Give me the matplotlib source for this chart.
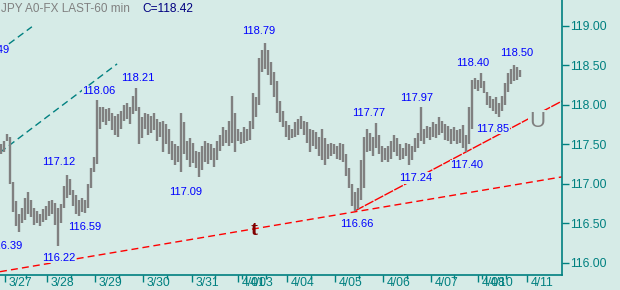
import numpy as np
import matplotlib
matplotlib.use("Agg")
import matplotlib.pyplot as plt
import matplotlib.transforms as mtransforms

plt.rcParams["font.family"] = ["Liberation Sans", "DejaVu Sans"]

# hourly-ish bars (high / low)
highs = [117.50, 117.55, 117.63, 117.60, 117.02, 116.78, 116.62, 116.70, 116.82, 116.90,
         116.80, 116.70, 116.66, 116.62, 116.68, 116.72, 116.78, 116.80, 116.76, 116.70,
         116.75, 116.98, 117.12, 117.06, 116.92, 116.86, 116.80, 116.82, 116.80, 117.00,
         117.20, 117.34, 118.06, 117.97, 117.98, 117.95, 117.96, 117.90, 117.86, 117.88,
         117.92, 118.00, 118.02, 117.98, 118.12, 118.21, 117.98, 117.85, 117.90, 117.88,
         117.86, 117.90, 117.82, 117.78, 117.80, 117.76, 117.70, 117.55, 117.50, 117.48,
         117.90, 117.78, 117.55, 117.58, 117.52, 117.42, 117.40, 117.48, 117.55, 117.52,
         117.50, 117.45, 117.55, 117.62, 117.72, 117.68, 117.80, 118.12, 117.90, 117.70,
         117.66, 117.72, 117.70, 117.80, 118.15, 118.10, 118.60, 118.70, 118.79, 118.70,
         118.55, 118.42, 118.30, 118.05, 117.92, 117.80, 117.75, 117.70, 117.78, 117.82,
         117.86, 117.80, 117.78, 117.70, 117.68, 117.66, 117.60, 117.70, 117.58, 117.50,
         117.52, 117.50, 117.48, 117.52, 117.50, 117.38, 117.20, 117.00, 116.90, 116.95,
         117.30, 117.60, 117.70, 117.65, 117.60, 117.77, 117.62, 117.48, 117.45, 117.48,
         117.55, 117.62, 117.58, 117.50, 117.46, 117.52, 117.50, 117.48, 117.58, 117.65,
         117.97, 117.70, 117.74, 117.72, 117.78, 117.76, 117.85, 117.80, 117.76, 117.74,
         117.70, 117.72, 117.68, 117.70, 117.75, 117.62, 117.98, 118.32, 118.34, 118.32,
         118.40, 118.30, 118.16, 118.12, 118.08, 118.10, 118.02, 118.12, 118.28, 118.40,
         118.46, 118.50, 118.48, 118.44]
lows = [117.38, 117.40, 117.55, 117.00, 116.64, 116.47, 116.39, 116.50, 116.55, 116.62,
        116.58, 116.48, 116.50, 116.47, 116.52, 116.55, 116.60, 116.62, 116.48, 116.22,
        116.50, 116.70, 116.82, 116.86, 116.72, 116.62, 116.59, 116.64, 116.63, 116.70,
        116.95, 117.15, 117.25, 117.70, 117.78, 117.75, 117.80, 117.68, 117.62, 117.60,
        117.70, 117.80, 117.82, 117.76, 117.88, 117.92, 117.50, 117.58, 117.70, 117.62,
        117.65, 117.68, 117.55, 117.60, 117.40, 117.50, 117.38, 117.30, 117.24, 117.28,
        117.15, 117.38, 117.30, 117.22, 117.26, 117.20, 117.09, 117.18, 117.28, 117.25,
        117.30, 117.22, 117.30, 117.42, 117.48, 117.52, 117.48, 117.52, 117.40, 117.55,
        117.50, 117.52, 117.55, 117.56, 117.70, 117.85, 118.00, 118.42, 118.45, 118.38,
        118.25, 118.10, 117.90, 117.78, 117.72, 117.60, 117.56, 117.58, 117.60, 117.62,
        117.70, 117.62, 117.52, 117.40, 117.48, 117.44, 117.35, 117.30, 117.24, 117.32,
        117.36, 117.38, 117.32, 117.30, 117.28, 117.10, 116.95, 116.72, 116.66, 116.68,
        116.80, 116.95, 117.40, 117.42, 117.35, 117.45, 117.38, 117.28, 117.30, 117.28,
        117.32, 117.40, 117.36, 117.30, 117.32, 117.35, 117.24, 117.30, 117.40, 117.45,
        117.55, 117.50, 117.58, 117.56, 117.60, 117.58, 117.62, 117.64, 117.56, 117.55,
        117.50, 117.54, 117.50, 117.52, 117.45, 117.40, 117.50, 117.70, 118.20, 118.18,
        118.22, 118.15, 118.00, 117.96, 117.92, 117.88, 117.85, 117.92, 118.00, 118.16,
        118.26, 118.30, 118.32, 118.36]

# date labels on the time axis (bar index where each day starts)
day_labels = ["3/27", "3/28", "3/29", "3/30", "3/31", "4/01", "4/03", "4/04",
              "4/05", "4/06", "4/07", "4/08", "4/10", "4/11"]
day_pos = [1.3, 15.3, 31.3, 47.3, 63.7, 79.0, 81.7, 95.3, 111.3, 127.3,
           143.3, 159.0, 161.7, 175.3]

# labelled highs / lows: bar index, price
ann_idx = [32, 45, 88, 160, 171, 22, 66, 125, 140, 166, 155, 136, 118, 26, 19]
ann_val = [118.06, 118.21, 118.79, 118.40, 118.50, 117.12, 117.09, 117.77, 117.97,
           117.85, 117.40, 117.24, 116.66, 116.59, 116.22]
ann_off = [(2, 9), (2, 10), (-6, 12), (-8, 10), (3, 12), (-8, 13), (-13, -15), (-7, 10),
           (-4, 9), (-6, -12), (1, -13), (7, -13), (2, -13), (6, -11), (1, -12)]

# trend lines (x in bars, price)
support_x = [-0.33, 187.0]
support_y = [115.89, 117.09]
up_x = [118, 187.0]
up_y = [116.66, 118.05]
chan1_x = [-0.33, 38.7]
chan1_y = [117.40, 118.52]
chan2_x = [-0.33, 10.3]
chan2_y = [118.69, 118.99]

bg = "#d6ebe7"
teal = "#008080"
blue = "#0000ff"

fig = plt.figure(figsize=(6.2, 2.9), dpi=100, facecolor=bg)
ax = fig.add_axes([0, 15 / 290, 562 / 620, 275 / 290])
ax.set_facecolor(bg)
ax.set_xlim(-0.33, 187)
ax.set_ylim(115.848, 119.329)

x = np.arange(len(highs))
ax.vlines(x, lows, highs, color="#808080", lw=1.7, zorder=3)

ax.plot(support_x, support_y, color="red", lw=1, dashes=(5, 3), zorder=2)
ax.plot(up_x, up_y, color="red", lw=1, dashes=(7, 1), zorder=2)
ax.plot(chan1_x, chan1_y, color=teal, lw=1, dashes=(5, 3), zorder=2)
ax.plot(chan2_x, chan2_y, color=teal, lw=1, dashes=(5, 3), zorder=2)

box = dict(boxstyle="square,pad=0.05", fc=bg, ec="none")
for i, v, off in zip(ann_idx, ann_val, ann_off):
    ax.annotate(f"{v:.2f}", (i, v), xytext=off, textcoords="offset pixels",
                ha="center", va="center", color=blue, fontsize=8, bbox=box, zorder=5)
# labels running off the left edge
ax.annotate("118.49", (-0.33, 118.49), xytext=(9, 16), textcoords="offset pixels",
            ha="right", va="center", color=blue, fontsize=8, bbox=box, zorder=5,
            annotation_clip=False)
ax.annotate("116.39", (6, 116.39), xytext=(3, -14), textcoords="offset pixels",
            ha="right", va="center", color=blue, fontsize=8, bbox=box, zorder=5,
            annotation_clip=False)

ax.text(84.3, 116.42, "t", color="#800000", fontsize=15, fontweight="bold",
        family="Liberation Serif", ha="center", va="center", zorder=6)
ax.text(178.7, 117.79, "U", color="#808080", fontsize=16, ha="center", va="center",
        bbox=box, zorder=6)

# axes styling
for s in ["left", "top"]:
    ax.spines[s].set_visible(False)
for s in ["right", "bottom"]:
    ax.spines[s].set_color(teal)
    ax.spines[s].set_linewidth(1.2)
ax.yaxis.tick_right()
ax.set_yticks(np.arange(116.0, 119.01, 0.5))
ax.set_yticklabels([f"{v:.2f}" for v in np.arange(116.0, 119.01, 0.5)])
ax.tick_params(axis="y", direction="out", length=5, width=1, color=teal,
               labelcolor=teal, labelsize=8.7, pad=1)

ax.set_xticks(day_pos)
ax.set_xticklabels([])
mids = [(a + b) / 2 for a, b in zip(day_pos[:-1], day_pos[1:])]
ax.set_xticks(mids, minor=True)
ax.tick_params(axis="x", which="major", direction="out", length=5, width=1, color=teal)
ax.tick_params(axis="x", which="minor", direction="out", length=3, width=1, color=teal)
trans = mtransforms.blended_transform_factory(ax.transData, ax.transAxes)
for lab, p in zip(day_labels, day_pos):
    ax.annotate(lab, (p, 0), xycoords=trans, xytext=(4, -2), textcoords="offset pixels",
                ha="left", va="top", color=teal, fontsize=8.8, annotation_clip=False)

fig.text(1 / 620, 1 - 9 / 290, "JPY A0-FX LAST-60 min", color="#808080",
         fontsize=8.5, ha="left", va="center")
fig.text(142 / 620, 1 - 9 / 290, "C=118.42", color="#000080", fontsize=8.6,
         ha="left", va="center")

fig.savefig("out.png", dpi=100, facecolor=bg)
